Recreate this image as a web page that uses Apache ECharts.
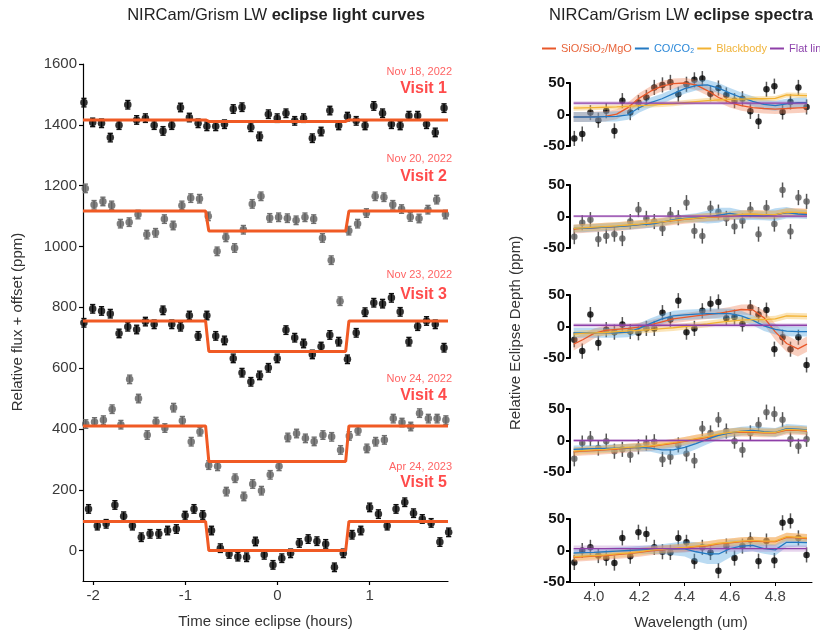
<!DOCTYPE html>
<html>
<head>
<meta charset="utf-8">
<script src="https://cdn.jsdelivr.net/npm/echarts@6/dist/echarts.min.js"></script>
<style>
  html, body { margin: 0; padding: 0; background: #fff; }
  #chart { width: 820px; height: 634px; }
</style>
</head>
<body>
<div id="chart"></div>
<script>
// ---------------- Light curves (left panel) ----------------
const lcTime = [-2.100, -2.005, -1.909, -1.814, -1.719, -1.624, -1.528, -1.433, -1.338, -1.242,
  -1.147, -1.052, -0.956, -0.861, -0.766, -0.670, -0.575, -0.480, -0.385, -0.289,
  -0.194, -0.099, -0.003, 0.092, 0.187, 0.283, 0.378, 0.473, 0.568, 0.664,
  0.759, 0.854, 0.950, 1.045, 1.140, 1.236, 1.331, 1.426, 1.521, 1.617, 1.712, 1.807];
const visitTimeShift = [0, 0.015, 0, 0.02, 0.05];
const visitDates = ['Nov 18, 2022', 'Nov 20, 2022', 'Nov 23, 2022', 'Nov 24, 2022', 'Apr 24, 2023'];
const visitNames = ['Visit 1', 'Visit 2', 'Visit 3', 'Visit 4', 'Visit 5'];

const visit1 = [1473,1408,1405,1358,1399,1466,1416,1422,1399,1380,1399,1457,1424,1405,1395,1395,1402,1452,1458,1392,1362,1435,1422,1438,1413,1422,1356,1378,1447,1398,1427,1413,1398,1462,1438,1402,1398,1430,1430,1402,1375,1455];
const visit2 = [1191,1137,1148,1135,1075,1080,1105,1039,1045,1090,1069,1135,1159,1157,1099,984,1030,995,1055,1140,1165,1094,1096,1093,1086,1096,1090,1028,955,820,1052,1075,1110,1165,1162,1137,1123,1097,1092,1121,1154,1105];
const visit3 = [749,795,788,779,714,736,727,753,744,790,744,736,773,706,773,706,691,632,585,555,576,601,632,725,700,681,645,671,709,687,629,716,784,815,812,831,785,687,738,755,744,667];
const visit4 = [416,423,429,465,414,563,500,380,424,403,470,427,358,391,281,277,194,238,178,219,197,249,277,372,385,369,359,380,374,331,377,394,336,358,364,434,421,408,452,434,434,429];
const visit5 = [137,82,88,150,113,82,44,55,55,66,71,115,137,117,66,8,-11,-20,-22,30,-14,-47,-25,-9,25,38,31,22,-55,-9,52,66,142,120,82,137,159,123,104,91,28,60];
const lcError = 14;

// eclipse model: out-of-eclipse level, in-eclipse level, contact times (hours)
const modelBase = [1416, 1117, 755, 410, 96];
const modelInEclipse = [1411, 1051, 655, 293, 0];
const contactTimes = [-0.78, -0.745, 0.74, 0.775];

const lcTicksX = [-2, -1, 0, 1];
const lcTicksY = [0, 200, 400, 600, 800, 1000, 1200, 1400, 1600];

// ---------------- Spectra (right panels) ----------------
const specWave = [3.913,3.948,3.984,4.019,4.054,4.090,4.125,4.160,4.196,4.231,4.266,4.302,4.337,4.372,4.408,
  4.443,4.478,4.514,4.549,4.584,4.620,4.655,4.690,4.726,4.761,4.796,4.832,4.867,4.902,4.938];
const spec1 = [-38,-31,3,-9,6,-26,22,3,19,27,43,47,51,32,48,55,57,33,42,31,22,25,5,-11,40,45,4,20,43,12];
const spec2 = [-32,-10,-5,-36,-31,-28,-35,-8,11,-3,-8,-19,3,-2,22,-23,-31,13,7,-3,-16,-7,11,-28,14,-12,42,-24,30,24];
const spec3 = [-21,-39,19,-26,-5,-9,3,-8,-10,-3,-3,22,11,41,-9,-3,25,36,39,13,15,4,30,19,26,-36,-17,-36,-17,-61];
const spec4 = [-29,-4,3,-12,-1,-17,-14,-23,-10,-4,-2,-30,-26,-7,-21,-32,19,12,33,15,-1,-15,12,25,45,42,33,2,-9,2];
const spec5 = [-19,0,5,-8,-12,-20,20,-9,29,26,5,-2,-3,20,13,-17,5,-3,-32,7,-12,7,17,-17,15,-16,44,47,20,-7];
const specError = 12;

const modelWave = [3.91,3.95,4.00,4.05,4.10,4.15,4.20,4.25,4.30,4.35,4.40,4.45,4.50,4.55,4.60,4.65,4.70,4.75,4.80,4.85,4.90,4.94];
const sio1 = [-4,-4,-3.5,-3,0.5,11,26,37,45,49,50,47,38,27,19,14,11,9.5,8.6,9.5,10.5,11];
const co1  = [-4,-4,-4,-3.5,-3,-0.5,11,19,25,33,41,46,47,42,34,27,21,16,14,17,19,19];
const bb1  = [10,10.5,11,11.5,12,13,14,15,16,17,19,20.5,22,23,24,24.5,25,25,25.5,31,30.5,30];
const sio2 = [-20,-19,-18,-17,-16,-14.5,-13,-11,-9,-6.5,-4.5,-3,-1.5,-0.5,1,3,3.5,2.5,2.5,6,6,5.5];
const co2  = [-19,-19,-18,-17,-16,-15,-13,-12,-9,-5,-3,-2,-1,2,5,2,1.5,1,3,6,4,3];
const bb2  = [-19,-18,-17,-16,-15,-13.5,-12,-10,-8.5,-6,-4,-2.5,-1,0,1.5,3.5,4,3,3,7,6.5,6];
const sio3 = [-28,-21,-11,-6,-4.5,-3,-1,3,7.5,12,14.5,17,19,21,24,27,26.5,14,-8.5,-27,-35.5,-28];
const co3  = [-10,-10,-10,-10,-10,-9,-3,5,12,17,18.5,19.5,20.5,20.5,20.5,17,10,1,-4.5,-7.5,-8,-8];
const bb3  = [-12,-11,-10,-9.5,-8,-7,-6,-5,-3.5,-2,0,2,4,6.5,8.5,10,11,11,12,17,16.5,16];
const sio4 = [-18,-17,-16,-15,-13.5,-12,-11,-9.5,-7,-4.5,-1.5,2,5,9,12,13.5,13,12,12,16.5,16,15];
const co4  = [-14,-13.5,-13,-12.5,-12,-11.5,-11,-12,-15,-15,-11,-5,2,8,12,15,16,14,13,19,18,17];
const bb4  = [-17,-16,-15,-14,-12.5,-11,-10,-8.5,-6,-3.5,-0.5,3,6,10,13,14.5,14,13,13,17.5,17,16];
const sio5 = [-11,-10,-9,-8,-6.5,-5,-3,-0.5,1,2.5,4,6,7.5,10.5,12,14,15,14,14,21,20,19];
const co5  = [-4,-3.5,-3,-2,-1,0,1,1.5,2,2.5,2.5,-2,-5.5,-5.5,3,7,8,3,1,13,13,12.5];
const bb5  = [-10,-9,-8,-7,-5.5,-4,-2,0.5,2,3.5,5,7,8.5,11.5,13,15,16,15,15,22,21,20];
const flatLevel = [18, 0.5, 2, 0, 3];

// 1-sigma half widths of the model envelopes
const sioWidth = [8, 7, [10,9,8,7,7,7,7,7,7,7,7,7,7,7,7,8,9,11,13,13,12,12], 7, 7];
const coWidth = [8,
  [6,6,6,6,6,6,6,6,6,6,6,7,10,12,9,8,7,7,10,9,7,7],
  8,
  [6,6,6,6,6,6,6,6,7,9,10,9,8,7,7,7,7,7,7,7,7,7],
  [6,6,6,6,6,6,6,7,8,10,12,15,16,16,14,10,9,8,9,8,7,7]];
const bbWidth = [4, 6, 5, 6, 6];
const flatWidth = [3, 2, 3, 2, 5];

const specTicksX = [4.0, 4.2, 4.4, 4.6, 4.8];
const specTicksY = [-50, 0, 50];

const modelNames = ['SiO/SiO\u2082/MgO', 'CO/CO\u2082', 'Blackbody', 'Flat line'];
const modelLine = ['#e8582a', '#2379c2', '#f2b233', '#8e3fa8'];
const modelFill = ['rgba(240,128,88,0.38)', 'rgba(86,164,222,0.40)', 'rgba(246,190,84,0.42)', 'rgba(176,120,196,0.32)'];
const legendText = ['#e8643a', '#2b88d8', '#f0b43c', '#8e44ad'];

// ---------------- Build chart ----------------
const FONT = '"Liberation Sans", Arial, Helvetica, sans-serif';
const chart = echarts.init(document.getElementById('chart'), null, { renderer: 'canvas' });

const lcVisits = [visit1, visit2, visit3, visit4, visit5];
const lcColors = ['#000000', '#5e5e5e', '#000000', '#5e5e5e', '#000000'];
const lcBarColors = ['#111111', '#707070', '#111111', '#707070', '#111111'];
const spectra = [spec1, spec2, spec3, spec4, spec5];
const specColors = ['#000000', '#5a5a5a', '#000000', '#5a5a5a', '#000000'];
const sioModels = [sio1, sio2, sio3, sio4, sio5];
const coModels = [co1, co2, co3, co4, co5];
const bbModels = [bb1, bb2, bb3, bb4, bb5];

const specTops = [83, 185, 295, 409, 519];
const grids = [{ left: 83, top: 64, width: 365, height: 518 }];
specTops.forEach(t => grids.push({ left: 570, top: t, width: 242, height: 63 }));

const xAxes = [{
  gridIndex: 0, type: 'value', min: -2.11, max: 1.85,
  axisLine: { show: true, onZero: false, lineStyle: { color: '#000', width: 1.2 } },
  axisTick: { show: true, length: 4, lineStyle: { color: '#000', width: 1.2 }, customValues: lcTicksX },
  axisLabel: { customValues: lcTicksX, fontSize: 15, color: '#3a3a3a', margin: 7, fontFamily: FONT,
    formatter: v => String(v) },
  splitLine: { show: false },
  name: 'Time since eclipse (hours)', nameLocation: 'middle', nameGap: 33,
  nameTextStyle: { fontSize: 15, color: '#333', fontFamily: FONT }
}];
const yAxes = [{
  gridIndex: 0, type: 'value', min: -100, max: 1600,
  axisLine: { show: true, onZero: false, lineStyle: { color: '#000', width: 1.2 } },
  axisTick: { show: true, length: 4, lineStyle: { color: '#000', width: 1.2 }, customValues: lcTicksY },
  axisLabel: { customValues: lcTicksY, fontSize: 15, color: '#3a3a3a', margin: 6, fontFamily: FONT,
    formatter: v => String(v) },
  splitLine: { show: false }
}];

for (let p = 0; p < 5; p++) {
  const last = p === 4;
  xAxes.push({
    gridIndex: p + 1, type: 'value', min: 3.894, max: 4.962, show: last,
    axisLine: { show: true, onZero: false, lineStyle: { color: '#000', width: 1 } },
    axisTick: { show: true, length: 4, lineStyle: { color: '#000' }, customValues: specTicksX },
    axisLabel: { customValues: specTicksX, fontSize: 15, color: '#444', margin: 7, fontFamily: FONT,
      formatter: v => v.toFixed(1) },
    splitLine: { show: false },
    name: last ? 'Wavelength (um)' : '', nameLocation: 'middle', nameGap: 33,
    nameTextStyle: { fontSize: 15, color: '#333', fontFamily: FONT }
  });
  yAxes.push({
    gridIndex: p + 1, type: 'value', min: -50, max: 50,
    axisLine: { show: true, onZero: false, lineStyle: { color: '#000', width: 2 } },
    axisTick: { show: true, length: 4, lineStyle: { color: '#000', width: 2 }, customValues: specTicksY },
    axisLabel: { customValues: specTicksY, fontSize: 15, fontWeight: 'bold', color: '#111', margin: 5,
      fontFamily: FONT, formatter: v => String(v) },
    splitLine: { show: false }
  });
}

function errorBars(axisIndex, xs, ys, err, color, capHalf, width, z) {
  return {
    type: 'custom', xAxisIndex: axisIndex, yAxisIndex: axisIndex, z, silent: true, clip: false,
    data: xs.map((x, i) => [x, ys[i], err]),
    encode: { x: 0, y: 1 },
    renderItem: (params, api) => {
      const x = api.value(0), y = api.value(1), e = api.value(2);
      const top = api.coord([x, y + e]);
      const bot = api.coord([x, y - e]);
      const st = { stroke: color, lineWidth: width };
      const children = [{ type: 'line', shape: { x1: top[0], y1: top[1], x2: bot[0], y2: bot[1] }, style: st }];
      if (capHalf > 0) {
        children.push({ type: 'line', shape: { x1: top[0] - capHalf, y1: top[1], x2: top[0] + capHalf, y2: top[1] }, style: st });
        children.push({ type: 'line', shape: { x1: bot[0] - capHalf, y1: bot[1], x2: bot[0] + capHalf, y2: bot[1] }, style: st });
      }
      return { type: 'group', children };
    }
  };
}

function widthAt(w, i) { return Array.isArray(w) ? w[i] : w; }

function band(axisIndex, xs, ys, w, fill, z) {
  const lo = ys.map((y, i) => y - widthAt(w, i));
  const hi = ys.map((y, i) => y + widthAt(w, i));
  return {
    type: 'custom', xAxisIndex: axisIndex, yAxisIndex: axisIndex, z, silent: true, clip: false,
    data: xs.map((x, i) => [x, lo[i], hi[i]]),
    encode: { x: 0, y: [1, 2] },
    renderItem: (params, api) => {
      if (params.dataIndex !== 0) return null;
      const upper = xs.map((x, i) => api.coord([x, hi[i]]));
      const lower = xs.map((x, i) => api.coord([x, lo[i]])).reverse();
      return { type: 'polygon', shape: { points: upper.concat(lower) }, style: { fill } };
    }
  };
}

const series = [];

// light curves
lcVisits.forEach((vals, k) => {
  const t = lcTime.map(v => v + visitTimeShift[k]);
  series.push(errorBars(0, t, vals, lcError, lcBarColors[k], 2.6, 1.4, 2));
  series.push({
    type: 'scatter', xAxisIndex: 0, yAxisIndex: 0, z: 3, silent: true, clip: false,
    symbol: 'circle', symbolSize: 7.5,
    itemStyle: { color: lcColors[k] },
    data: t.map((x, i) => [x, vals[i]])
  });
  const base = modelBase[k], ecl = modelInEclipse[k];
  series.push({
    type: 'line', xAxisIndex: 0, yAxisIndex: 0, z: 4, silent: true, symbol: 'none',
    lineStyle: { color: '#f05a24', width: 3 },
    data: [[-2.11, base], [contactTimes[0], base], [contactTimes[1], ecl],
      [contactTimes[2], ecl], [contactTimes[3], base], [1.85, base]]
  });
});

// spectra
for (let p = 0; p < 5; p++) {
  const ax = p + 1;
  series.push(errorBars(ax, specWave, spectra[p], specError, '#555', 0, 1.5, 2));
  series.push({
    type: 'scatter', xAxisIndex: ax, yAxisIndex: ax, z: 3, silent: true, clip: false,
    symbol: 'circle', symbolSize: 6.5,
    itemStyle: { color: specColors[p] },
    data: specWave.map((x, i) => [x, spectra[p][i]])
  });
  const flat = modelWave.map(() => flatLevel[p]);
  const curves = [sioModels[p], coModels[p], bbModels[p], flat];
  const widths = [sioWidth[p], coWidth[p], bbWidth[p], flatWidth[p]];
  curves.forEach((ys, m) => series.push(band(ax, modelWave, ys, widths[m], modelFill[m], 4)));
  curves.forEach((ys, m) => series.push({
    type: 'line', name: modelNames[m], xAxisIndex: ax, yAxisIndex: ax, z: 5 + (m === 3 ? 1 : 0),
    silent: true, symbol: 'none', clip: false,
    itemStyle: { color: modelLine[m] },
    lineStyle: { color: modelLine[m], width: 1.3 },
    data: modelWave.map((x, i) => [x, ys[i]])
  }));
}

// text overlays
const titleRich = {
  n: { fontSize: 16.5, fontFamily: FONT, fill: '#222' },
  b: { fontSize: 16.5, fontFamily: FONT, fontWeight: 'bold', fill: '#222' }
};
const graphics = [
  {
    type: 'text', x: 276, y: 15,
    style: { text: '{n|NIRCam/Grism LW }{b|eclipse light curves}', align: 'center', verticalAlign: 'middle', rich: titleRich }
  },
  {
    type: 'text', x: 681, y: 15,
    style: { text: '{n|NIRCam/Grism LW }{b|eclipse spectra}', align: 'center', verticalAlign: 'middle', rich: titleRich }
  },
  {
    type: 'text', x: 18, y: 322, rotation: Math.PI / 2,
    style: { text: 'Relative flux + offset (ppm)', fontSize: 15, fontFamily: FONT, fill: '#333',
      align: 'center', verticalAlign: 'middle' }
  },
  {
    type: 'text', x: 516, y: 333, rotation: Math.PI / 2,
    style: { text: 'Relative Eclipse Depth (ppm)', fontSize: 15, fontFamily: FONT, fill: '#333',
      align: 'center', verticalAlign: 'middle' }
  }
];
const dateY = [72, 159, 275, 379, 467];
const nameY = [89, 177, 295, 396, 483];
for (let k = 0; k < 5; k++) {
  graphics.push({
    type: 'text', x: 452, y: dateY[k],
    style: { text: visitDates[k], fontSize: 11, fontFamily: FONT, fill: '#ff6464',
      align: 'right', verticalAlign: 'middle' }
  });
  graphics.push({
    type: 'text', x: 447, y: nameY[k],
    style: { text: visitNames[k], fontSize: 16, fontWeight: 'bold', fontFamily: FONT, fill: '#ff4b4b',
      align: 'right', verticalAlign: 'middle' }
  });
}

chart.setOption({
  animation: false,
  backgroundColor: '#ffffff',
  textStyle: { fontFamily: FONT },
  grid: grids,
  xAxis: xAxes,
  yAxis: yAxes,
  legend: {
    left: 537, top: 38, width: 700, icon: 'rect', itemWidth: 14, itemHeight: 2, itemGap: 3,
    selectedMode: false,
    textStyle: { fontSize: 11, fontFamily: FONT },
    data: modelNames.map((n, m) => ({ name: n, textStyle: { color: legendText[m] } }))
  },
  graphic: graphics,
  series
});
</script>
</body>
</html>
